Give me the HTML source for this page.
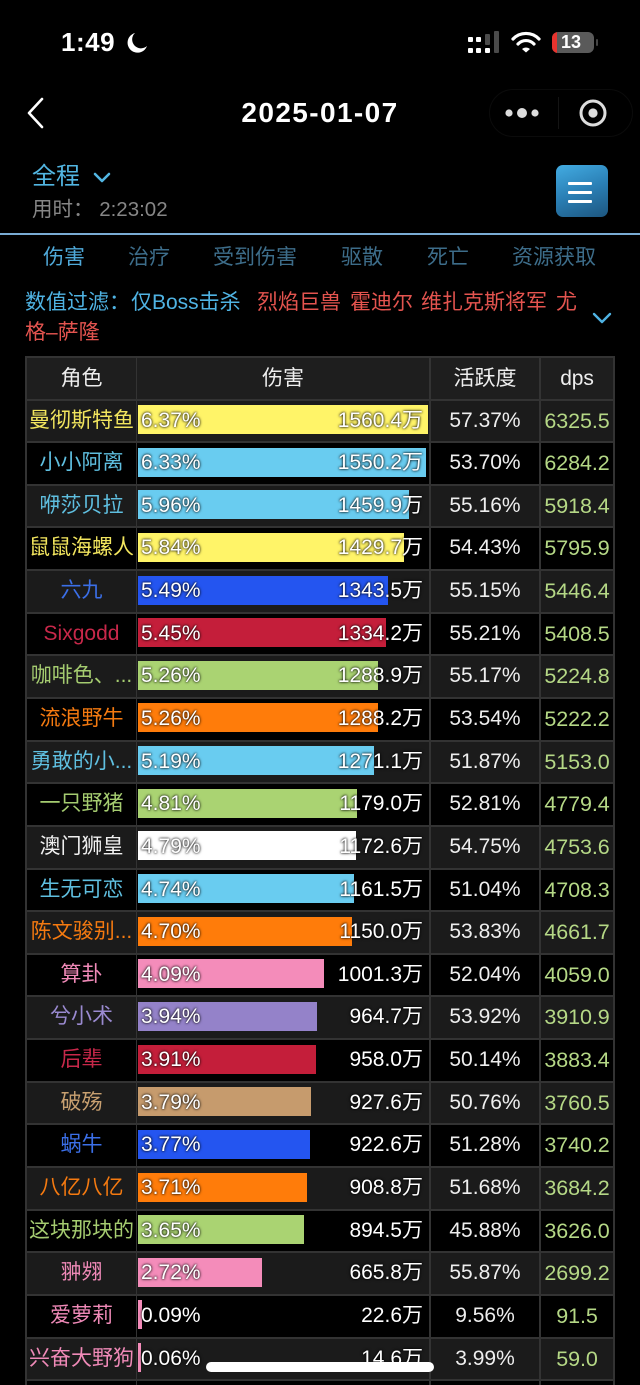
<!DOCTYPE html>
<html><head><meta charset="utf-8">
<style>
*{margin:0;padding:0;box-sizing:border-box}
html,body{width:640px;height:1385px;background:#000;overflow:hidden}
body{position:relative;font-family:"Liberation Sans","Noto Sans CJK SC",sans-serif;color:#eee}
.a{position:absolute;white-space:nowrap}
.row{position:absolute;left:25px;width:590px;height:42.64px;background:#333}
.c{position:absolute;top:2px;height:40.64px;line-height:40px;font-size:21px;text-align:center;overflow:hidden;white-space:nowrap}
.c1{left:2px;width:109px}
.c2{left:112px;width:292px}
.c3{left:406px;width:108px;color:#eee}
.c4{left:516px;width:72px;color:#b5d886;font-size:21.5px;letter-spacing:-0.1px}
.g{background:#1b1b1b}
.k{background:#000}
.bar{position:absolute;left:1px;top:4.5px;height:29px}
.pt{position:absolute;left:4px;top:0;color:#fff;text-shadow:0 0 2px rgba(0,0,0,.95),0 0 3px rgba(0,0,0,.6)}
.vt{position:absolute;right:6px;top:0;color:#fff;text-shadow:0 0 2px rgba(0,0,0,.95),0 0 3px rgba(0,0,0,.6)}
.hd{color:#eee;font-size:21px;background:#1e1e1e}
.tab{position:absolute;top:245px;font-size:21px;line-height:26px;color:#3d6d8a}
</style></head><body>

<!-- status bar -->
<div class="a" style="left:61px;top:27px;font-size:26px;font-weight:bold;color:#fff;line-height:30px;letter-spacing:0.5px">1:49</div>
<svg class="a" style="left:126px;top:32px" width="22" height="22" viewBox="0 0 22 22"><path d="M9 1 A10 10 0 1 0 21 14 A8 8 0 0 1 9 1 Z" fill="#fff"/></svg>
<svg class="a" style="left:466px;top:30px" width="36" height="26" viewBox="0 0 36 26">
<rect x="2" y="7" width="5" height="5" rx="1" fill="#fff"/><rect x="10" y="7" width="5" height="5" rx="1" fill="#fff"/>
<rect x="2" y="18" width="5" height="5" rx="1" fill="#fff"/><rect x="10" y="18" width="5" height="5" rx="1" fill="#fff"/><rect x="19" y="18" width="5" height="5" rx="1" fill="#fff"/>
<rect x="19" y="4" width="5" height="11" rx="1" fill="#4a4a4a"/><rect x="28" y="1" width="5" height="22" rx="1" fill="#4a4a4a"/>
</svg>
<svg class="a" style="left:511px;top:31px" width="30" height="22" viewBox="0 0 30 22">
<path d="M2 8 A18 18 0 0 1 28 8" stroke="#fff" stroke-width="3.2" fill="none" stroke-linecap="round"/>
<path d="M7 13 A11 11 0 0 1 23 13" stroke="#fff" stroke-width="3.2" fill="none" stroke-linecap="round"/>
<path d="M11 18 L15 21.5 L19 18 A6 6 0 0 0 11 18 Z" fill="#fff"/>
</svg>
<div class="a" style="left:552px;top:32px;width:42px;height:21px;border-radius:6px;background:#5a5a5a;overflow:hidden">
<div style="position:absolute;left:0;top:0;width:5px;height:21px;background:#e8332e"></div>
<div style="position:absolute;left:9px;top:0;font-size:18px;font-weight:bold;color:#fff;line-height:21px">13</div>
</div>
<div class="a" style="left:596px;top:39px;width:2px;height:7px;background:#444;border-radius:1px"></div>

<!-- nav -->
<svg class="a" style="left:26px;top:97px" width="20" height="32" viewBox="0 0 20 32"><path d="M16 2 L3 16 L16 30" stroke="#fff" stroke-width="2.6" fill="none" stroke-linecap="round" stroke-linejoin="round"/></svg>
<div class="a" style="left:0;width:640px;top:96px;text-align:center;font-size:28px;font-weight:bold;color:#fff;line-height:34px;letter-spacing:1.4px">2025-01-07</div>
<div class="a" style="left:489px;top:89px;width:144px;height:48px;border-radius:24px;border:1px solid #0b0b0b"></div>
<svg class="a" style="left:500px;top:103px" width="44" height="20" viewBox="0 0 44 20">
<circle cx="9" cy="10" r="3.6" fill="#ddd"/><circle cx="22" cy="10" r="5" fill="#ddd"/><circle cx="35" cy="10" r="3.6" fill="#ddd"/>
</svg>
<div class="a" style="left:558px;top:97px;width:1px;height:32px;background:#141414"></div>
<svg class="a" style="left:578px;top:98px" width="30" height="30" viewBox="0 0 30 30">
<circle cx="15" cy="15" r="12" stroke="#ddd" stroke-width="3" fill="none"/><circle cx="15" cy="15" r="4.6" fill="#ddd"/>
</svg>

<!-- 全程 -->
<div class="a" style="left:32px;top:162px;font-size:24px;line-height:30px;color:#52b6e2">全程</div>
<svg class="a" style="left:93px;top:171px" width="18" height="14" viewBox="0 0 18 14"><path d="M2 3 L9 10 L16 3" stroke="#52b6e2" stroke-width="2.6" fill="none" stroke-linecap="round" stroke-linejoin="round"/></svg>
<div class="a" style="left:32px;top:198px;font-size:20.5px;line-height:24px;color:#868686">用时：&nbsp;2:23:02</div>
<div class="a" style="left:556px;top:165px;width:52px;height:52px;border-radius:7px;background:linear-gradient(160deg,#43ace2 0%,#2a7fb5 50%,#1d567f 100%)"></div>
<div class="a" style="left:568px;top:182px;width:24px;height:2.6px;background:#fff;border-radius:1px"></div>
<div class="a" style="left:568px;top:191px;width:24px;height:2.6px;background:#fff;border-radius:1px"></div>
<div class="a" style="left:568px;top:200px;width:24px;height:2.6px;background:#fff;border-radius:1px"></div>

<div class="a" style="left:0;top:232.5px;width:640px;height:2px;background:#79acd4"></div>

<!-- tabs -->
<div class="tab" style="left:43px;color:#4fa9d9">伤害</div>
<div class="tab" style="left:128px">治疗</div>
<div class="tab" style="left:213px">受到伤害</div>
<div class="tab" style="left:341px">驱散</div>
<div class="tab" style="left:427px">死亡</div>
<div class="tab" style="left:512px">资源获取</div>

<!-- filter -->
<div class="a" style="left:25px;top:289px;font-size:21px;line-height:27px;color:#4fb3e3">数值过滤：</div>
<div class="a" style="left:131px;top:289px;font-size:21px;line-height:27px;color:#4fb3e3">仅Boss击杀</div>
<div class="a" style="left:257px;top:289px;font-size:21px;line-height:27px;color:#e4544f">烈焰巨兽</div>
<div class="a" style="left:350px;top:289px;font-size:21px;line-height:27px;color:#e4544f">霍迪尔</div>
<div class="a" style="left:421px;top:289px;font-size:21px;line-height:27px;color:#e4544f">维扎克斯将军</div>
<div class="a" style="left:556px;top:289px;font-size:21px;line-height:27px;color:#e4544f">尤</div>
<div class="a" style="left:25px;top:319px;font-size:21px;line-height:27px;color:#e4544f">格–萨隆</div>
<svg class="a" style="left:592px;top:310px" width="20" height="16" viewBox="0 0 20 16"><path d="M2 4 L10 12 L18 4" stroke="#4fb3e3" stroke-width="2.4" fill="none" stroke-linecap="round" stroke-linejoin="round"/></svg>

<!-- table header -->
<div class="row" style="top:355.5px;height:43px">
<div class="c c1 hd" style="height:41px;line-height:41px">角色</div>
<div class="c c2 hd" style="height:41px;line-height:41px">伤害</div>
<div class="c c3 hd" style="height:41px;line-height:41px">活跃度</div>
<div class="c c4 hd" style="height:41px;line-height:41px;color:#eee">dps</div>
</div>

<div class="row" style="top:398.5px"><div class="c c1 g" style="color:#f2e55e">曼彻斯特鱼</div><div class="c c2 g"><div class="bar" style="width:290px;background:#fff468"></div><span class="pt">6.37%</span><span class="vt">1560.4万</span></div><div class="c c3 g">57.37%</div><div class="c c4 g">6325.5</div></div>
<div class="row" style="top:441.14px"><div class="c c1 k" style="color:#5fbfe0">小小阿离</div><div class="c c2 k"><div class="bar" style="width:288.2px;background:#69ccf0"></div><span class="pt">6.33%</span><span class="vt">1550.2万</span></div><div class="c c3 k">53.70%</div><div class="c c4 k">6284.2</div></div>
<div class="row" style="top:483.78px"><div class="c c1 g" style="color:#5fbfe0">咿莎贝拉</div><div class="c c2 g"><div class="bar" style="width:271.3px;background:#69ccf0"></div><span class="pt">5.96%</span><span class="vt">1459.9万</span></div><div class="c c3 g">55.16%</div><div class="c c4 g">5918.4</div></div>
<div class="row" style="top:526.42px"><div class="c c1 k" style="color:#f2e55e">鼠鼠海螺人</div><div class="c c2 k"><div class="bar" style="width:265.9px;background:#fff468"></div><span class="pt">5.84%</span><span class="vt">1429.7万</span></div><div class="c c3 k">54.43%</div><div class="c c4 k">5795.9</div></div>
<div class="row" style="top:569.06px"><div class="c c1 g" style="color:#3b6fe8">六九</div><div class="c c2 g"><div class="bar" style="width:249.9px;background:#2455f0"></div><span class="pt">5.49%</span><span class="vt">1343.5万</span></div><div class="c c3 g">55.15%</div><div class="c c4 g">5446.4</div></div>
<div class="row" style="top:611.7px"><div class="c c1 k" style="color:#c8284a">Sixgodd</div><div class="c c2 k"><div class="bar" style="width:248.1px;background:#c41e3a"></div><span class="pt">5.45%</span><span class="vt">1334.2万</span></div><div class="c c3 k">55.21%</div><div class="c c4 k">5408.5</div></div>
<div class="row" style="top:654.34px"><div class="c c1 g" style="color:#a5cc70">咖啡色、...</div><div class="c c2 g"><div class="bar" style="width:239.5px;background:#aad372"></div><span class="pt">5.26%</span><span class="vt">1288.9万</span></div><div class="c c3 g">55.17%</div><div class="c c4 g">5224.8</div></div>
<div class="row" style="top:696.98px"><div class="c c1 k" style="color:#f57a10">流浪野牛</div><div class="c c2 k"><div class="bar" style="width:239.5px;background:#ff7c0a"></div><span class="pt">5.26%</span><span class="vt">1288.2万</span></div><div class="c c3 k">53.54%</div><div class="c c4 k">5222.2</div></div>
<div class="row" style="top:739.62px"><div class="c c1 g" style="color:#5fbfe0">勇敢的小...</div><div class="c c2 g"><div class="bar" style="width:236.3px;background:#69ccf0"></div><span class="pt">5.19%</span><span class="vt">1271.1万</span></div><div class="c c3 g">51.87%</div><div class="c c4 g">5153.0</div></div>
<div class="row" style="top:782.26px"><div class="c c1 k" style="color:#a5cc70">一只野猪</div><div class="c c2 k"><div class="bar" style="width:219px;background:#aad372"></div><span class="pt">4.81%</span><span class="vt">1179.0万</span></div><div class="c c3 k">52.81%</div><div class="c c4 k">4779.4</div></div>
<div class="row" style="top:824.9px"><div class="c c1 g" style="color:#f0f0f0">澳门狮皇</div><div class="c c2 g"><div class="bar" style="width:218.1px;background:#ffffff"></div><span class="pt">4.79%</span><span class="vt">1172.6万</span></div><div class="c c3 g">54.75%</div><div class="c c4 g">4753.6</div></div>
<div class="row" style="top:867.54px"><div class="c c1 k" style="color:#5fbfe0">生无可恋</div><div class="c c2 k"><div class="bar" style="width:215.8px;background:#69ccf0"></div><span class="pt">4.74%</span><span class="vt">1161.5万</span></div><div class="c c3 k">51.04%</div><div class="c c4 k">4708.3</div></div>
<div class="row" style="top:910.18px"><div class="c c1 g" style="color:#f57a10">陈文骏别...</div><div class="c c2 g"><div class="bar" style="width:214px;background:#ff7c0a"></div><span class="pt">4.70%</span><span class="vt">1150.0万</span></div><div class="c c3 g">53.83%</div><div class="c c4 g">4661.7</div></div>
<div class="row" style="top:952.82px"><div class="c c1 k" style="color:#f08ab8">算卦</div><div class="c c2 k"><div class="bar" style="width:186.2px;background:#f48cba"></div><span class="pt">4.09%</span><span class="vt">1001.3万</span></div><div class="c c3 k">52.04%</div><div class="c c4 k">4059.0</div></div>
<div class="row" style="top:995.46px"><div class="c c1 g" style="color:#9a8ad0">兮小术</div><div class="c c2 g"><div class="bar" style="width:179.4px;background:#9482c9"></div><span class="pt">3.94%</span><span class="vt">964.7万</span></div><div class="c c3 g">53.92%</div><div class="c c4 g">3910.9</div></div>
<div class="row" style="top:1038.1px"><div class="c c1 k" style="color:#c8284a">后辈</div><div class="c c2 k"><div class="bar" style="width:178px;background:#c41e3a"></div><span class="pt">3.91%</span><span class="vt">958.0万</span></div><div class="c c3 k">50.14%</div><div class="c c4 k">3883.4</div></div>
<div class="row" style="top:1080.74px"><div class="c c1 g" style="color:#c8a070">破殇</div><div class="c c2 g"><div class="bar" style="width:172.5px;background:#c69b6d"></div><span class="pt">3.79%</span><span class="vt">927.6万</span></div><div class="c c3 g">50.76%</div><div class="c c4 g">3760.5</div></div>
<div class="row" style="top:1123.38px"><div class="c c1 k" style="color:#3b6fe8">蜗牛</div><div class="c c2 k"><div class="bar" style="width:171.6px;background:#2455f0"></div><span class="pt">3.77%</span><span class="vt">922.6万</span></div><div class="c c3 k">51.28%</div><div class="c c4 k">3740.2</div></div>
<div class="row" style="top:1166.02px"><div class="c c1 g" style="color:#f57a10">八亿八亿</div><div class="c c2 g"><div class="bar" style="width:168.9px;background:#ff7c0a"></div><span class="pt">3.71%</span><span class="vt">908.8万</span></div><div class="c c3 g">51.68%</div><div class="c c4 g">3684.2</div></div>
<div class="row" style="top:1208.66px"><div class="c c1 k" style="color:#a5cc70">这块那块的</div><div class="c c2 k"><div class="bar" style="width:166.2px;background:#aad372"></div><span class="pt">3.65%</span><span class="vt">894.5万</span></div><div class="c c3 k">45.88%</div><div class="c c4 k">3626.0</div></div>
<div class="row" style="top:1251.3px"><div class="c c1 g" style="color:#f08ab8">翀翙</div><div class="c c2 g"><div class="bar" style="width:123.8px;background:#f48cba"></div><span class="pt">2.72%</span><span class="vt">665.8万</span></div><div class="c c3 g">55.87%</div><div class="c c4 g">2699.2</div></div>
<div class="row" style="top:1293.94px"><div class="c c1 k" style="color:#f08ab8">爱萝莉</div><div class="c c2 k"><div class="bar" style="width:3.5px;background:#f48cba"></div><span class="pt">0.09%</span><span class="vt">22.6万</span></div><div class="c c3 k">9.56%</div><div class="c c4 k">91.5</div></div>
<div class="row" style="top:1336.58px"><div class="c c1 g" style="color:#f08ab8">兴奋大野狗</div><div class="c c2 g"><div class="bar" style="width:2.7px;background:#f48cba"></div><span class="pt">0.06%</span><span class="vt">14.6万</span></div><div class="c c3 g">3.99%</div><div class="c c4 g">59.0</div></div>
<div class="row" style="top:1379.22px"><div class="c c1 k"></div><div class="c c2 k"></div><div class="c c3 k"></div><div class="c c4 k"></div></div>

<!-- home indicator -->
<div class="a" style="left:206px;top:1362px;width:228px;height:10px;border-radius:5px;background:#fff"></div>

</body></html>
